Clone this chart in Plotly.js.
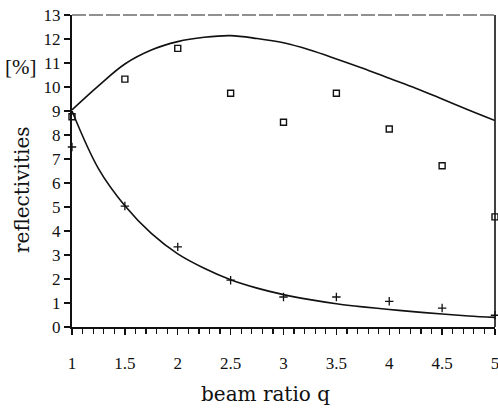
<!DOCTYPE html>
<html>
<head>
<meta charset="utf-8">
<script src="https://cdn.plot.ly/plotly-3.0.1.min.js"></script>
<style>html,body{margin:0;padding:0;background:#fff;}#chart{width:498px;height:409px;}</style>
</head>
<body>
<div id="chart"></div>
<script>
// measured points
const qPoints = [1, 1.5, 2, 2.5, 3, 3.5, 4, 4.5, 5];
const squareValues = [8.76, 10.33, 11.61, 9.74, 8.53, 9.74, 8.25, 6.72, 4.59];
const plusValues = [7.5, 5.04, 3.34, 1.95, 1.25, 1.25, 1.07, 0.79, 0.49];
// theoretical curves
const qCurve = [1, 1.25, 1.5, 1.75, 2, 2.25, 2.5, 2.75, 3, 3.25, 3.5, 3.75, 4, 4.25, 4.5, 4.75, 5];
const upperCurve = [9.05, 10.05, 10.96, 11.54, 11.89, 12.07, 12.14, 12.02, 11.84, 11.54, 11.17, 10.78, 10.36, 9.95, 9.5, 9.04, 8.6];
const lowerCurve = [9.0, 6.6, 5.05, 3.9, 3.05, 2.45, 1.97, 1.62, 1.35, 1.14, 0.97, 0.84, 0.73, 0.63, 0.54, 0.46, 0.4];
const xTicks = [1, 1.5, 2, 2.5, 3, 3.5, 4, 4.5, 5];
const xTickText = ['1', '1.5', '2', '2.5', '3', '3.5', '4', '4.5', '5'];
const yTicks = [0,1,2,3,4,5,6,7,8,9,10,11,12,13];

const serif = 'Liberation Serif, DejaVu Serif, serif';
const wideSerif = 'DejaVu Serif, Liberation Serif, serif';

const traces = [
  {x: qCurve, y: upperCurve, mode: 'lines', line: {color: '#111', width: 1.6, shape: 'spline'}, hoverinfo: 'skip', cliponaxis: false},
  {x: qCurve, y: lowerCurve, mode: 'lines', line: {color: '#111', width: 1.6, shape: 'spline'}, hoverinfo: 'skip', cliponaxis: false},
  {x: qPoints, y: squareValues, mode: 'markers', cliponaxis: false,
   marker: {symbol: 'square-open', size: 6, color: '#111', line: {width: 1.4, color: '#111'}}},
  {x: qPoints, y: plusValues, mode: 'markers', cliponaxis: false,
   marker: {symbol: 'cross-thin-open', size: 6, color: '#111', line: {width: 1.3, color: '#111'}}}
];

const layout = {
  width: 498, height: 409,
  margin: {l: 72, r: 3, t: 15, b: 82, pad: 0},
  paper_bgcolor: '#fff', plot_bgcolor: '#fff',
  showlegend: false,
  font: {family: serif, color: '#111', size: 16},
  xaxis: {
    range: [1, 5], showgrid: false, zeroline: false,
    showline: true, linecolor: '#111', linewidth: 1.6,
    tickmode: 'array', tickvals: xTicks, ticktext: xTickText,
    ticks: 'outside', ticklen: 6, tickwidth: 1.4, tickcolor: '#111',
    minor: {dtick: 0.1, ticks: 'outside', ticklen: 5, tickwidth: 1.2, tickcolor: '#111'},
    ticklabelstandoff: 14, ticklabeloverflow: 'allow',
    tickfont: {family: serif, size: 17, color: '#111'}
  },
  yaxis: {
    range: [0, 13], showgrid: false, zeroline: false,
    showline: true, linecolor: '#111', linewidth: 2.2,
    tickmode: 'array', tickvals: yTicks,
    ticks: 'outside', ticklen: 6, tickwidth: 1.2, tickcolor: '#111',
    tickfont: {family: serif, size: 17, color: '#111'}
  },
  shapes: [
    {type: 'line', xref: 'paper', yref: 'paper', x0: 1, x1: 1, y0: 0, y1: 1, line: {color: '#111', width: 1.6}},
    {type: 'line', xref: 'paper', yref: 'paper', x0: 0, x1: 1, y0: 1, y1: 1, line: {color: '#222', width: 1.1, dash: '14px,3px'}}
  ],
  annotations: [
    {text: 'reflectivities', xref: 'paper', yref: 'paper', x: -0.12, y: 0.44, xanchor: 'center', yanchor: 'middle',
     textangle: -90, showarrow: false, font: {family: wideSerif, size: 20, color: '#111'}},
    {text: '[%]', xref: 'paper', yref: 'paper', x: -0.121, y: 0.832, xanchor: 'center', yanchor: 'middle',
     showarrow: false, font: {family: serif, size: 21, color: '#111'}},
    {text: 'beam ratio q', xref: 'paper', yref: 'paper', x: 0.458, y: -0.215, xanchor: 'center', yanchor: 'middle',
     showarrow: false, font: {family: wideSerif, size: 20, color: '#111'}}
  ]
};

Plotly.newPlot('chart', traces, layout, {displayModeBar: false, staticPlot: true});
</script>
</body>
</html>
